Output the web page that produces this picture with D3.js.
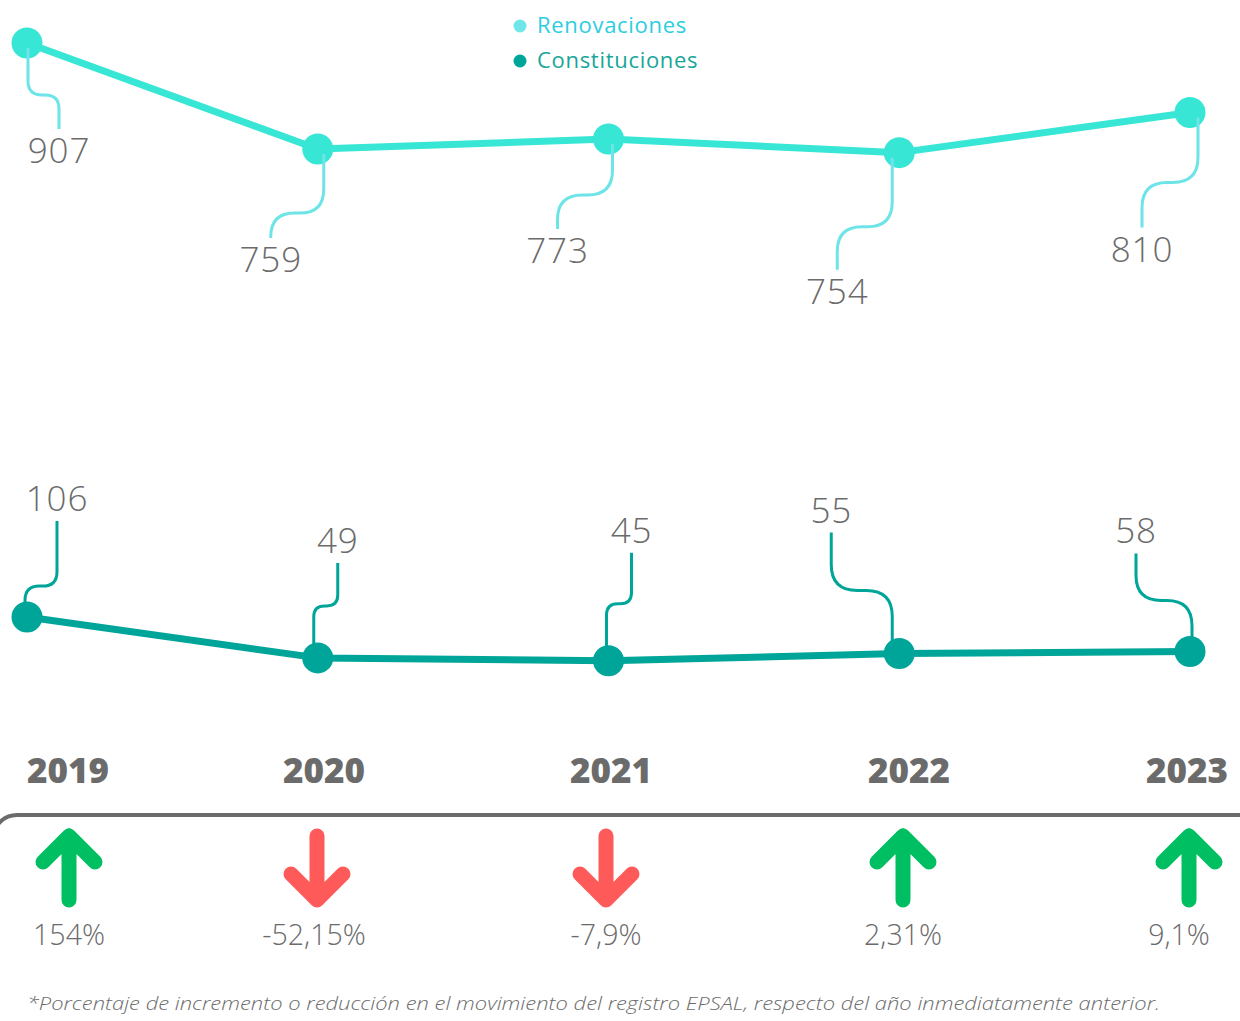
<!DOCTYPE html>
<html>
<head>
<meta charset="utf-8">
<script src="https://cdn.jsdelivr.net/npm/d3@7"></script>
<style>
  html, body { margin: 0; padding: 0; background: #ffffff; }
  svg { display: block; font-family: "Open Sans", "Lato", sans-serif; }
</style>
</head>
<body>
<svg id="chart" width="1240" height="1021"></svg>
<script>
// ---- data ----
const years = ["2019", "2020", "2021", "2022", "2023"];
const renovaciones = [907, 759, 773, 754, 810];
const constituciones = [106, 49, 45, 55, 58];
const variacion = [154, -52.15, -7.9, 2.31, 9.1];
const seriesNames = ["Renovaciones", "Constituciones"];
const footnote = "*Porcentaje de incremento o reducción en el movimiento del registro EPSAL, respecto del año inmediatamente anterior.";

// ---- layout ----
const W = 1240, H = 1021;
const colors = {
  ren: "#38E6D6", renLeader: "#6DE4E8", renLegendText: "#2CCDE0", renLegendDot: "#6FE6EA",
  con: "#00A59A", conLegendText: "#17A699",
  text: "#6B6B6B", up: "#00BF63", down: "#FF5A5A"
};
// callout placement per point: start offset, bend depth, label centre offset, label baseline offset
const renCallout = [
  { sx: 1,  bend: 52, lx: 32,  base: 120 },
  { sx: 6,  bend: 64, lx: -47, base: 123 },
  { sx: 4,  bend: 56, lx: -51, base: 124 },
  { sx: -7, bend: 74, lx: -62, base: 151 },
  { sx: 8,  bend: 70, lx: -48, base: 149 }
];
const conCallout = [
  { sx: -2, bend: 31, lx: 30,  base: 106 },
  { sx: -4, bend: 52, lx: 20,  base: 105 },
  { sx: -2, bend: 57, lx: 23,  base: 118 },
  { sx: -7, bend: 63, lx: -68, base: 131 },
  { sx: 2,  bend: 51, lx: -54, base: 108 }
];
const yearX = [68, 324, 611, 909, 1187];
const arrowX = [69, 317, 606, 903, 1189];
const pctX = [69, 314, 606, 903, 1179];

const svg = d3.select("#chart");

const x = d3.scalePoint().domain(years).range([27, 1190]);
const y = d3.scaleLinear().domain([0, d3.max(renovaciones)]).range([693, 43]);

// ---- legend ----
const legend = svg.append("g");
[[seriesNames[0], colors.renLegendDot, colors.renLegendText, 26],
 [seriesNames[1], colors.con, colors.conLegendText, 61]].forEach(([name, dot, txt, ly]) => {
  legend.append("circle").attr("cx", 520).attr("cy", ly).attr("r", 6.5).attr("fill", dot);
  legend.append("text").attr("x", 537).attr("y", ly + 7)
    .attr("font-size", 22).attr("font-weight", 400).attr("letter-spacing", 0.7)
    .attr("fill", txt).text(name);
});

// ---- leader path with an S bend ----
function leader(x0, y0, x1, y1, ym) {
  const s = Math.sign(y1 - y0) || 1;
  const h = Math.sign(x1 - x0) || 1;
  const r = Math.min(Math.abs(x1 - x0) * 0.45, 26, Math.abs(ym - y0) * 0.8);
  const p = d3.path();
  p.moveTo(x0, y0);
  p.lineTo(x0, ym - s * r);
  p.quadraticCurveTo(x0, ym, x0 + h * r, ym);
  p.lineTo(x1 - h * r, ym);
  p.quadraticCurveTo(x1, ym, x1, ym + s * r);
  p.lineTo(x1, y1);
  return p.toString();
}

function drawSeries(values, color, leaderColor, callout, below) {
  const g = svg.append("g");
  const pts = values.map((v, i) => ({ year: years[i], v, px: x(years[i]), py: y(v), c: callout[i] }));

  g.append("path")
    .datum(pts)
    .attr("fill", "none")
    .attr("stroke", color)
    .attr("stroke-width", 7)
    .attr("stroke-linejoin", "round")
    .attr("d", d3.line().x(d => d.px).y(d => d.py));

  g.selectAll("circle").data(pts).join("circle")
    .attr("cx", d => d.px).attr("cy", d => d.py).attr("r", 15.5).attr("fill", color);

  g.selectAll("path.leader").data(pts).join("path")
    .attr("class", "leader")
    .attr("fill", "none")
    .attr("stroke", leaderColor)
    .attr("stroke-width", 3)
    .attr("d", d => {
      const x0 = d.px + d.c.sx;
      const y0 = d.py + (below ? 5 : -4);
      const x1 = d.px + d.c.lx;
      const yb = below ? d.py + d.c.base : d.py - d.c.base;
      const y1 = below ? yb - 34 : yb + 10;
      const ym = below ? d.py + d.c.bend : d.py - d.c.bend;
      return leader(x0, y0, x1, y1, ym);
    });

  g.selectAll("text").data(pts).join("text")
    .attr("x", d => d.px + d.c.lx)
    .attr("y", d => below ? d.py + d.c.base : d.py - d.c.base)
    .attr("text-anchor", "middle")
    .attr("font-size", 35)
    .attr("font-weight", 300)
    .attr("letter-spacing", 0.8)
    .attr("fill", colors.text)
    .text(d => d.v);
}

drawSeries(renovaciones, colors.ren, colors.renLeader, renCallout, true);
drawSeries(constituciones, colors.con, colors.con, conCallout, false);

// ---- year labels ----
svg.append("g").selectAll("text").data(years).join("text")
  .attr("x", (d, i) => yearX[i]).attr("y", 783)
  .attr("text-anchor", "middle")
  .attr("font-size", 35).attr("font-weight", 800)
  .attr("fill", colors.text)
  .text(d => d);

// ---- divider with rounded left corner ----
svg.append("path")
  .attr("fill", "none")
  .attr("stroke", colors.text)
  .attr("stroke-width", 4)
  .attr("d", "M -7,839 A 24 24 0 0 1 17,815 H " + (W + 5));

// ---- change arrows ----
const ag = svg.append("g");
variacion.forEach((v, i) => {
  const cx = arrowX[i];
  const up = v >= 0;
  const top = 836, bot = 900, arm = 26;
  const p = d3.path();
  p.moveTo(cx, up ? bot : top); p.lineTo(cx, up ? top : bot);
  if (up) { p.moveTo(cx - arm, top + arm); p.lineTo(cx, top); p.lineTo(cx + arm, top + arm); }
  else { p.moveTo(cx - arm, bot - arm); p.lineTo(cx, bot); p.lineTo(cx + arm, bot - arm); }
  ag.append("path").attr("d", p.toString())
    .attr("fill", "none").attr("stroke", up ? colors.up : colors.down)
    .attr("stroke-width", 15).attr("stroke-linecap", "round").attr("stroke-linejoin", "round");
});

// ---- percentage labels ----
svg.append("g").selectAll("text").data(variacion).join("text")
  .attr("x", (d, i) => pctX[i]).attr("y", 945)
  .attr("text-anchor", "middle")
  .attr("font-size", 28.5).attr("font-weight", 300)
  .attr("fill", colors.text)
  .text(d => String(d).replace(".", ",") + "%");

// ---- footnote ----
svg.append("text")
  .attr("x", 27).attr("y", 1010)
  .attr("font-size", 18.5).attr("font-style", "italic").attr("font-weight", 300)
  .attr("fill", colors.text)
  .attr("textLength", 1133).attr("lengthAdjust", "spacingAndGlyphs")
  .text(footnote);
</script>
</body>
</html>
